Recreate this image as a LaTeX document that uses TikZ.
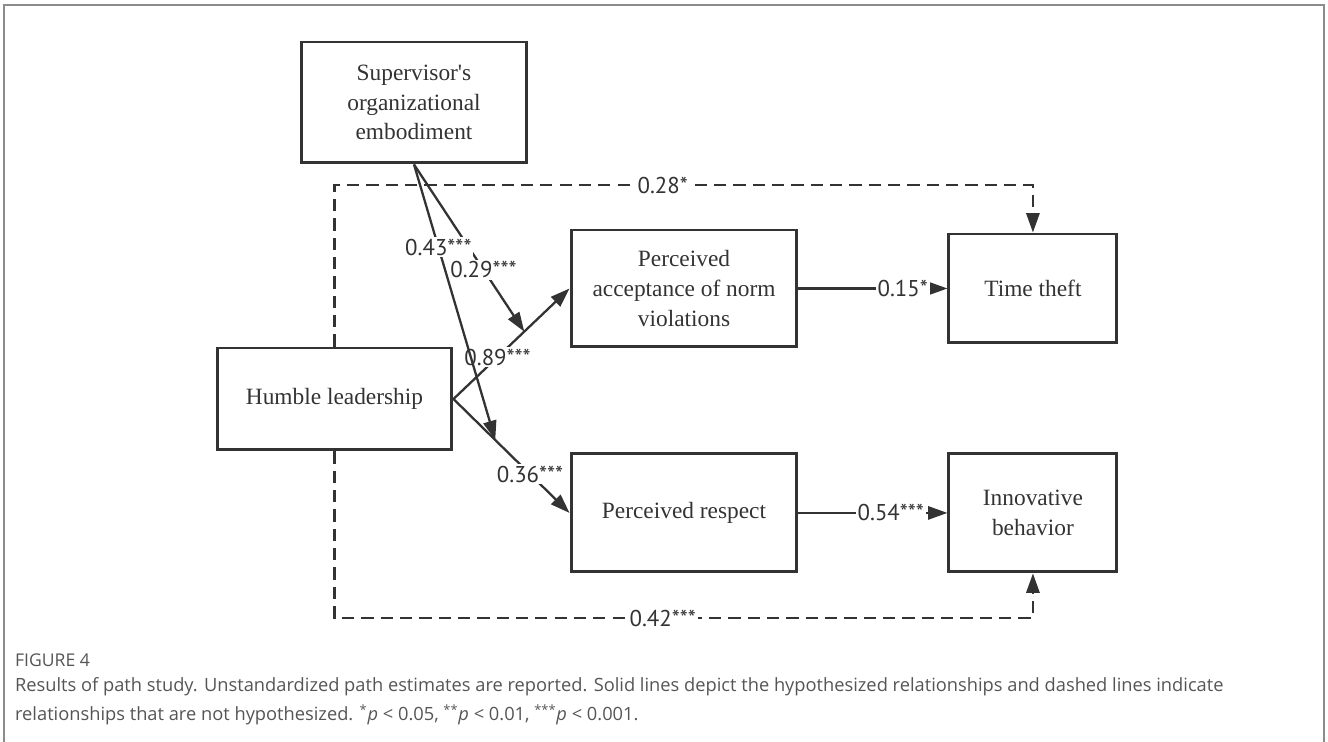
\documentclass[tikz,border=0pt]{standalone}
\usepackage{fontspec}
\setmainfont{Liberation Serif}
\newfontfamily\lblfamily{PT Sans}
\newfontfamily\capfamily{Open Sans}
\usetikzlibrary{positioning,arrows.meta}
\definecolor{ink}{HTML}{333333}
\definecolor{capgray}{HTML}{555555}
\definecolor{framegray}{HTML}{8C8C8C}

\begin{document}
\begin{tikzpicture}[x=0.02cm, y=-0.02cm, line width=1.3pt, >={Triangle[length=11pt,width=7.5pt]},
    box/.style={draw=ink, line width=1.7pt, align=center, text=ink, font=\fontsize{13.3}{17}\selectfont, inner sep=2pt},
    lbl/.style={fill=white, inner sep=1pt, text=ink, font=\lblfamily\fontsize{13}{15}\selectfont},
    edge/.style={draw=ink, ->},
    dashedge/.style={draw=ink, ->, dash pattern=on 7pt off 4pt}]
    \useasboundingbox (0,0) rectangle (1328,742);
    \draw[framegray, line width=1.2pt] (4,742) -- (4,5) -- (1324,5) -- (1324,742);

    \node[box, minimum width=4.52cm, minimum height=2.42cm] (sup) at (414,102.5) {Supervisor\textquotesingle s\\organizational\\embodiment};
    \node[box, minimum width=4.7cm, minimum height=2.04cm] (hum) at (334.5,399) {Humble leadership};
    \node[box, minimum width=4.52cm, minimum height=2.34cm] (acc) at (684,288.5) {Perceived\\acceptance of norm\\violations};
    \node[box, minimum width=3.36cm, minimum height=2.18cm, right=2.98cm of acc] (tt) {Time theft};
    \node[box, minimum width=4.52cm, minimum height=2.36cm, below=2.08cm of acc] (res) {Perceived respect};
    \node[box, minimum width=3.36cm, minimum height=2.36cm, right=2.98cm of res] (inn) {Innovative\\behavior};

    \coordinate (toprow) at (0,185);
    \coordinate (botrow) at (0,618);

    % not hypothesized
    \draw[dashedge] (hum.north) -- (hum.north |- toprow) -- node[lbl, pos=0.47] {0.28*} (tt.north |- toprow) -- (tt.north);
    \draw[dashedge] (hum.south) -- (hum.south |- botrow) -- node[lbl, pos=0.47] {0.42***} (inn.south |- botrow) -- (inn.south);

    % hypothesized
    \draw[edge] (acc) -- node[lbl, pos=0.70] {0.15*} (tt);
    \draw[edge] (res) -- node[lbl, pos=0.62] {0.54***} (inn);
    \draw[edge] (hum.east) -- coordinate[pos=0.61] (accmod) node[lbl, pos=0.38] {0.89***} (acc.west);
    \draw[edge] (hum.east) -- coordinate[pos=0.36] (resmod) node[lbl, pos=0.66] {0.36***} (res.west);
    \draw[edge] (sup.south) -- node[lbl, pos=0.63] {0.29***} (accmod);
    \draw[edge] (sup.south) -- node[lbl, pos=0.30] {0.43***} (resmod);

    \node[anchor=north west, inner sep=0pt, text=capgray, font=\capfamily\fontsize{10}{12}\selectfont] (fig) at (14,653) {FIGURE 4};
    \node[anchor=north west, inner sep=0pt, align=left, text=capgray, font=\capfamily\fontsize{10.4}{17}\selectfont] (cap) at (14,676) {Results of path study. Unstandardized path estimates are reported. Solid lines depict the hypothesized relationships and dashed lines indicate\\relationships that are not hypothesized. \textsuperscript{*}\textit{p} < 0.05, \textsuperscript{**}\textit{p} < 0.01, \textsuperscript{***}\textit{p} < 0.001.};
\end{tikzpicture}
\end{document}
